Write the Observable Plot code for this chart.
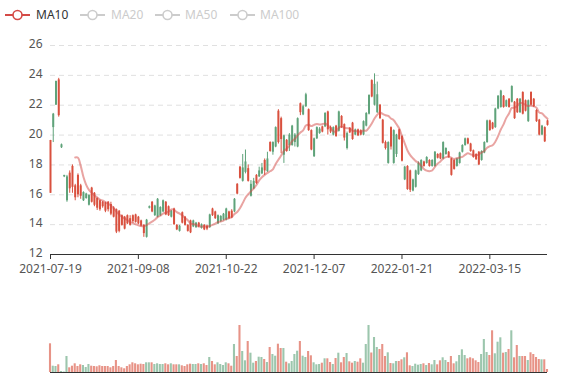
<!DOCTYPE html>
<html><head><meta charset="utf-8">
<script src="https://cdn.jsdelivr.net/npm/d3@7"></script>
<script src="https://cdn.jsdelivr.net/npm/@observablehq/plot@0.6"></script>
<style>
html,body{margin:0;padding:0;background:#fff;}
#wrap{width:577px;height:380px;position:relative;overflow:hidden;font-family:"Noto Sans",sans-serif;}
#legend{height:30px;position:relative;}
.item{position:absolute;top:6px;height:18px;display:flex;align-items:center;font-size:12px;}
#main svg,#vol svg{display:block;}
</style></head><body>
<div id="wrap"><div id="legend"></div><div id="main"></div><div id="vol"></div></div>
<script>
// ---- data ----
const open  = [19.64,20.5,22.0,23.7,19.15,17.2,15.6,17.45,17.9,16.6,17.3,16.6,15.6,15.75,15.3,16.45,16.1,15.75,15.6,15.5,15.45,15.5,15.35,15.1,15.0,14.9,14.6,14.5,14.6,14.4,14.6,14.65,14.5,14.25,13.95,13.15,15.1,15.5,14.6,14.5,14.6,14.85,15.5,15.2,14.5,15.05,13.95,13.55,14.8,14.5,13.95,14.25,13.85,13.8,14.1,13.75,13.95,13.9,13.8,15.05,14.85,14.05,14.2,14.3,14.3,14.85,14.9,14.85,16.7,17.85,16.9,17.5,17.75,15.9,16.4,17.3,17.2,17.4,18.3,17.55,19.5,18.85,19.2,21.6,21.1,18.65,19.65,19.3,19.3,19.5,19.2,22.1,21.35,21.9,21.7,20.3,18.55,19.75,20.1,20.55,20.55,21.55,20.5,20.0,20.6,20.25,21.25,20.7,19.1,20.45,20.8,20.0,20.35,20.3,20.0,20.6,21.4,23.65,22.0,21.5,22.0,21.0,19.5,18.1,20.5,18.1,18.7,20.35,19.9,17.0,17.9,17.6,16.25,16.5,17.35,17.6,18.2,18.1,18.3,17.9,17.9,18.7,18.75,18.4,18.7,18.85,18.4,18.3,17.9,18.1,18.85,19.3,19.75,19.4,18.95,18.7,18.85,18.3,18.8,19.5,20.95,20.8,20.5,21.75,21.85,22.6,21.9,22.4,22.2,22.2,22.4,21.5,22.85,22.3,20.9,22.85,22.4,21.65,21.0,20.0,20.5,20.95];
const close = [16.1,21.4,23.6,21.3,19.35,17.3,17.2,16.4,16.5,15.8,16.0,15.9,16.15,16.05,15.95,15.5,15.3,15.1,15.0,15.2,14.9,15.0,14.7,14.5,13.5,13.55,13.95,13.7,14.05,13.95,14.2,14.15,14.05,13.9,13.4,14.3,15.2,14.85,15.25,15.7,15.15,15.6,14.65,14.6,14.9,14.0,13.65,13.9,14.1,13.95,13.55,13.45,14.25,14.1,13.85,14.0,13.65,13.7,14.65,14.6,14.4,14.6,14.55,14.7,15.05,14.4,14.45,15.7,16.05,17.1,17.8,18.2,16.9,16.7,16.9,16.75,17.6,17.8,17.6,18.4,18.9,19.5,20.5,19.5,19.7,19.95,18.9,20.0,20.6,20.0,21.1,21.5,21.9,22.7,20.3,19.0,19.75,20.5,20.4,20.2,21.45,20.35,20.2,20.5,19.9,21.55,20.5,19.8,20.1,20.15,19.7,20.35,19.95,20.0,20.9,21.45,22.65,22.55,23.4,22.7,21.1,19.45,19.1,19.5,19.2,20.3,20.0,19.7,18.25,17.85,16.35,16.3,17.0,17.6,18.1,18.3,17.9,18.5,17.9,18.3,18.85,18.45,18.4,19.5,19.1,18.5,17.3,17.7,18.4,18.8,19.3,19.75,19.4,18.9,18.5,18.35,18.0,18.9,19.5,20.95,20.3,20.4,21.75,22.6,22.95,21.85,22.3,21.85,23.25,21.1,21.5,22.4,21.4,21.6,22.3,22.0,21.9,20.9,20.0,20.6,19.55,20.65];
const low   = [16.1,19.5,22.0,21.2,19.1,17.15,15.5,16.1,16.1,15.6,15.8,15.7,15.55,15.7,15.25,15.45,15.2,14.95,14.9,15.1,14.8,14.85,14.6,14.45,13.4,13.45,13.9,13.65,14.0,13.9,14.1,14.1,14.0,13.85,13.15,13.1,15.05,14.8,14.55,14.45,14.55,14.8,14.6,14.55,14.45,13.95,13.6,13.5,14.05,13.9,13.5,13.4,13.8,13.75,13.8,13.7,13.6,13.6,13.75,14.55,14.35,14.0,14.15,14.25,14.25,14.35,14.4,14.8,16.0,17.05,16.85,17.4,16.85,15.85,16.35,16.7,17.15,17.35,17.3,17.5,18.85,18.65,19.15,19.4,18.75,18.1,18.85,18.9,19.25,19.2,19.15,21.3,21.3,21.85,20.25,18.95,18.5,19.7,20.05,20.15,20.5,20.0,20.1,19.95,19.85,20.2,20.45,19.6,19.0,20.1,19.65,19.95,19.9,19.95,19.95,20.55,21.35,22.5,21.95,21.45,21.05,19.4,19.0,18.05,19.0,18.05,18.5,19.65,18.2,16.95,16.3,16.15,16.2,16.45,17.3,17.55,17.85,18.05,17.85,17.85,17.85,18.4,18.35,18.35,18.65,18.45,17.25,17.65,17.85,18.05,18.8,19.25,19.35,18.85,18.45,18.3,17.95,18.25,18.75,19.45,20.25,20.35,20.45,21.7,21.8,21.8,21.85,21.8,22.15,21.05,21.45,21.45,21.35,21.55,20.85,21.95,21.85,20.85,19.95,19.95,19.5,20.6];
const high  = [19.64,21.45,23.6,23.8,19.4,17.3,17.3,17.6,18.0,16.7,17.4,16.7,16.2,16.1,16.0,16.5,16.15,15.8,15.65,15.55,15.5,15.55,15.5,15.2,15.05,14.95,14.65,14.55,14.65,14.6,14.65,14.7,14.55,14.3,14.0,14.35,15.25,15.55,15.3,15.75,15.2,15.65,15.55,15.25,14.95,15.1,14.0,13.95,14.85,14.55,14.0,14.3,14.3,14.15,14.15,14.05,14.0,13.95,14.7,15.1,14.9,14.65,14.6,14.75,15.1,14.9,15.0,15.75,16.75,17.9,18.7,19.0,18.0,16.95,17.1,17.35,17.85,18.1,18.4,18.85,19.55,19.55,20.55,21.7,21.2,20.0,19.7,20.1,20.65,20.1,21.15,22.15,22.0,22.8,21.75,20.35,19.8,20.55,20.5,20.6,21.5,21.6,20.6,20.55,20.65,21.6,21.3,20.75,20.2,20.5,20.85,20.4,20.4,20.35,20.95,21.5,22.7,23.7,24.1,23.55,22.05,21.05,19.6,19.55,20.55,20.35,20.05,20.4,19.95,17.9,17.95,17.65,17.05,17.65,18.2,18.35,18.25,18.55,18.35,18.35,18.9,18.75,18.8,19.55,19.15,18.9,18.45,18.35,18.45,18.85,19.35,19.8,19.8,19.45,19.0,18.75,18.9,18.95,19.55,21.0,21.0,20.85,21.8,22.65,23.0,22.65,22.35,22.45,23.3,22.25,22.45,22.45,22.9,22.35,22.35,22.9,22.45,21.7,21.05,20.65,20.55,21.0];
const volume = [28.7,6.3,6,7.7,1,0.5,16,4.7,6.3,8.7,6,7.7,7,5,8,6.3,6,5.7,6.7,6,6,6,4.7,6,12,6,4.7,3.7,6,7.7,9.7,8.7,7.7,8.3,8,9.7,9.7,9.7,8,8.7,8,8,8.7,7.7,8.7,7.7,7.7,7.7,6.7,6,7.7,8.3,8,8,8.7,8,8.7,7,15,11,7.7,9.7,8,7,9.7,8.7,6.3,28,16,47,21,11.7,31,19.3,9.3,11,15.3,15,13,10,25,18,16.3,28.3,24,24,10.3,8.7,11,18,21.3,31,16.3,15,21,16.7,9.7,7.7,8,9.3,13.7,13.7,10,8,14,19.3,9.7,15,19,10.7,9.3,11,10.3,13.7,9.3,28,47,19.5,35,25,23,28,16,19.7,9,8.7,11,11,12.7,14.7,19.7,6.7,6,8.3,7.3,8,8.7,7,9,7.7,12,7.7,11.7,14.7,12,10,16,8.7,10.7,17,22.7,17,13.7,14.7,13.7,11.7,10,18,33,20,17,41.7,18.7,30.3,34.7,19.3,20,23,41.7,14.7,27,16,16,16,12,19.7,18,15,13,12.7,12.7,3];
const tickLabels = ["2021-07-19","2021-09-08","2021-10-22","2021-12-07","2022-01-21","2022-03-15"];
const labelInterval = 32;
const yTicks = [12,14,16,18,20,22,24,26];
const legendNames = ["MA10","MA20","MA50","MA100"];
const legendActive = [true,false,false,false];
const maWindow = 10;

// ---- styles ----
const UP = "#5fa37a", DOWN = "#d9503e", MA_COLOR = "#d44a46", OFF = "#cccccc";
const N = close.length;
const data = close.map((c,i)=>({i, open:open[i], close:c, low:low[i], high:high[i], volume:volume[i]}));
const col = d => d.close >= d.open ? UP : DOWN;
const ma = [];
for (let i = maWindow - 1; i < N; i++) ma.push({i, v: d3.mean(close.slice(i - maWindow + 1, i + 1))});
const tickIdx = tickLabels.map((_, k) => k * labelInterval);

// legend
const legPos = [[5,36],[80,111],[155,185],[230,260]];
const leg = document.getElementById("legend");
legendNames.forEach((name,k)=>{
  const c = legendActive[k] ? MA_COLOR : OFF;
  const icon = `<svg width="25" height="14" style="position:absolute;left:${legPos[k][0]}px;top:2px"><line x1="0" x2="25" y1="7" y2="7" stroke="${c}" stroke-width="2"/><circle cx="12.5" cy="7" r="4.5" fill="#fff" stroke="${c}" stroke-width="1.6"/></svg>`;
  const txt = `<span style="position:absolute;left:${legPos[k][1]}px;top:0px;line-height:18px;font-size:12px;color:${legendActive[k] ? '#333' : OFF}">${name}</span>`;
  const d = document.createElement("div");
  d.className = "item"; d.style.left = "0px"; d.style.width = "577px";
  d.innerHTML = icon + txt;
  leg.appendChild(d);
});

const baseStyle = {fontFamily: '"Noto Sans", sans-serif', fontSize: "12px", color: "#555", background: "transparent", overflow: "visible"};

const main = Plot.plot({
  width: 577, height: 260, marginTop: 15, marginBottom: 36, marginLeft: 50, marginRight: 30,
  style: baseStyle,
  x: {domain: [0, N - 1], axis: null},
  y: {domain: [12, 26], axis: null},
  marks: [
    Plot.ruleY(yTicks.slice(1), {stroke: "#e0e0e0", strokeDasharray: "5,4"}),
    Plot.ruleX(data, {x: "i", y1: "low", y2: "high", stroke: col, strokeWidth: 1}),
    Plot.ruleX(data, {x: "i", y1: "open", y2: "close", stroke: col, strokeWidth: 2}),
    Plot.line(ma, {x: "i", y: "v", curve: "catmull-rom", stroke: MA_COLOR, strokeOpacity: 0.5, strokeWidth: 2}),
    Plot.axisY({ticks: yTicks, tickSize: 0, tickPadding: 8, label: null, fill: "#555", dy: -1}),
    Plot.axisX({ticks: tickIdx, tickFormat: v => tickLabels[tickIdx.indexOf(v)], tickSize: 5, tickPadding: 5, label: null, stroke: "#333", fill: "#555"}),
    Plot.ruleY([12], {stroke: "#333"})
  ]
});
document.getElementById("main").appendChild(main);

const vol = Plot.plot({
  width: 577, height: 90, marginTop: 35, marginBottom: 8, marginLeft: 50, marginRight: 30,
  style: baseStyle,
  x: {domain: [0, N - 1], axis: null},
  y: {domain: [0, d3.max(volume)], axis: null},
  marks: [
    Plot.rectY(data, {x1: d => d.i - 0.38, x2: d => d.i + 0.38, y: "volume", fill: col, fillOpacity: 0.62}),
    Plot.ruleY([0], {stroke: "#333"})
  ]
});
document.getElementById("vol").appendChild(vol);
</script></body></html>
